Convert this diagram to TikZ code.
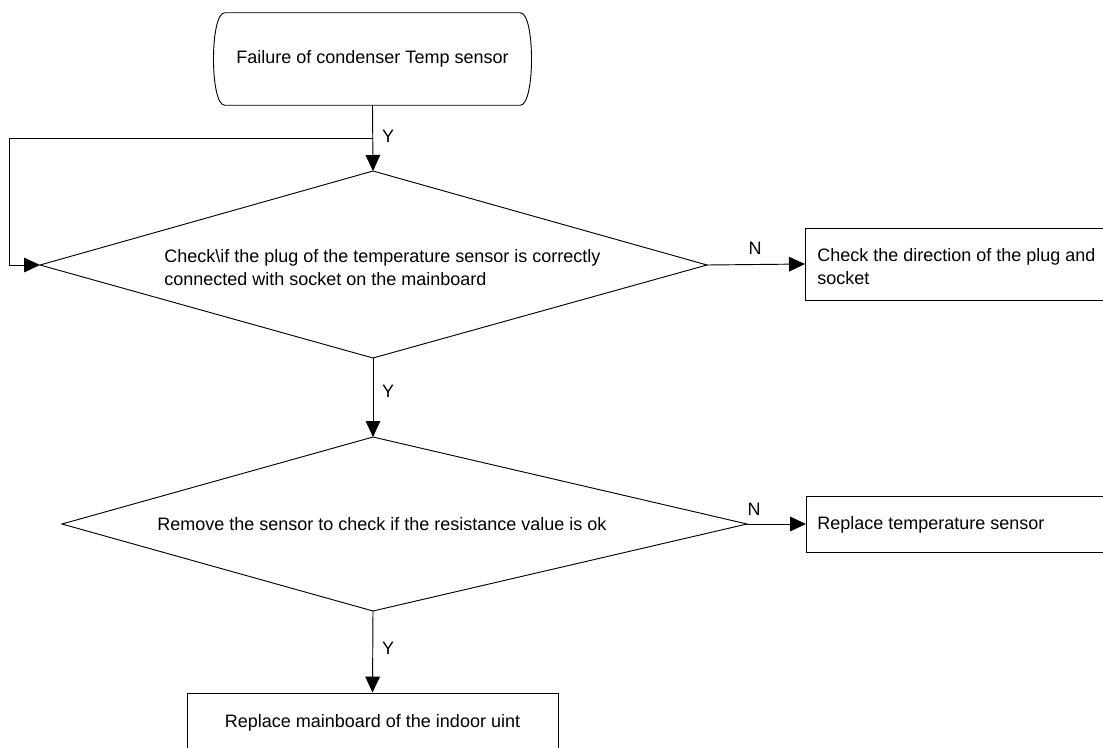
\documentclass[tikz,border=0pt]{standalone}
\usepackage{fontspec}
\setmainfont{Liberation Sans}
\usetikzlibrary{arrows.meta,calc}
\begin{document}
\begin{tikzpicture}[x=0.75pt,y=-0.75pt,
  line/.style={draw=black,line width=0.7pt},
  arr/.style={line,-{Triangle[length=12pt,width=11pt]}},
  lbl/.style={inner sep=0pt,font=\fontsize{13.5}{17.2}\selectfont},
  boxnode/.style={line,rectangle,inner sep=0pt,font=\fontsize{13.5}{17.2}\selectfont},
]
\useasboundingbox (0,0) rectangle (1103,747);
\clip (0,0) rectangle (1103,747);
% terminal
\node[lbl, minimum width={295*0.75pt}, minimum height={92*0.75pt}] (T) at (372.5,59) {Failure of condenser Temp sensor};
\draw[line] (T.north west) -- (T.north east)
  .. controls ($(T.north east)+(15,0)$) and ($(T.south east)+(15,0)$) .. (T.south east)
  -- (T.south west)
  .. controls ($(T.south west)+(-15,0)$) and ($(T.north west)+(-15,0)$) .. cycle;
% diamond 1
\coordinate (d1t) at (373,171);
\coordinate (d1l) at (40,265);
\coordinate (d1r) at (707,265);
\coordinate (d1b) at (373,358);
\draw[line] (d1t) -- (d1r) -- (d1b) -- (d1l) -- cycle;
\node[lbl,anchor=west,align=left] (d1txt) at (164,268) {Check\textbackslash if the plug of the temperature sensor is correctly\\connected with socket on the mainboard};
% diamond 2
\coordinate (d2t) at (373,437);
\coordinate (d2l) at (62,524);
\coordinate (d2r) at (747,524);
\coordinate (d2b) at (373,611);
\draw[line] (d2t) -- (d2r) -- (d2b) -- (d2l) -- cycle;
\node[lbl,anchor=west] (d2txt) at (157,524) {Remove the sensor to check if the resistance value is ok};
% boxes
\node[boxnode, minimum width={310*0.75pt}, minimum height={72*0.75pt}, anchor=west] (B1) at (805,264) {};
\node[lbl,anchor=west,align=left] (B1txt) at (817,267) {Check the direction of the plug and\\socket};
\node[boxnode, minimum width={310*0.75pt}, minimum height={56*0.75pt}, anchor=west] (B2) at (806,524) {};
\node[lbl,anchor=west] (B2txt) at (817,525) {Replace temperature sensor};
\node[boxnode, minimum width={371*0.75pt}, minimum height={60*0.75pt}] (B3) at (372.5,723) {Replace mainboard of the indoor uint};
% connectors
\coordinate (j) at (373,138);
\coordinate (lp) at (9,265);
\draw[arr] (T.south) -- (d1t);
\draw[arr] (j) -| (lp) -- (d1l);
\draw[arr] (d1r) -- (B1.west);
\draw[arr] (d1b) -- (d2t);
\draw[arr] (d2r) -- (B2.west);
\draw[arr] (d2b) -- (B3.north);
% labels
\node[lbl] (y1) at (388,136) {Y};
\node[lbl] (n1) at (755,248) {N};
\node[lbl] (y2) at (388,391) {Y};
\node[lbl] (n2) at (754,509) {N};
\node[lbl] (y3) at (388,648) {Y};
\end{tikzpicture}
\end{document}
